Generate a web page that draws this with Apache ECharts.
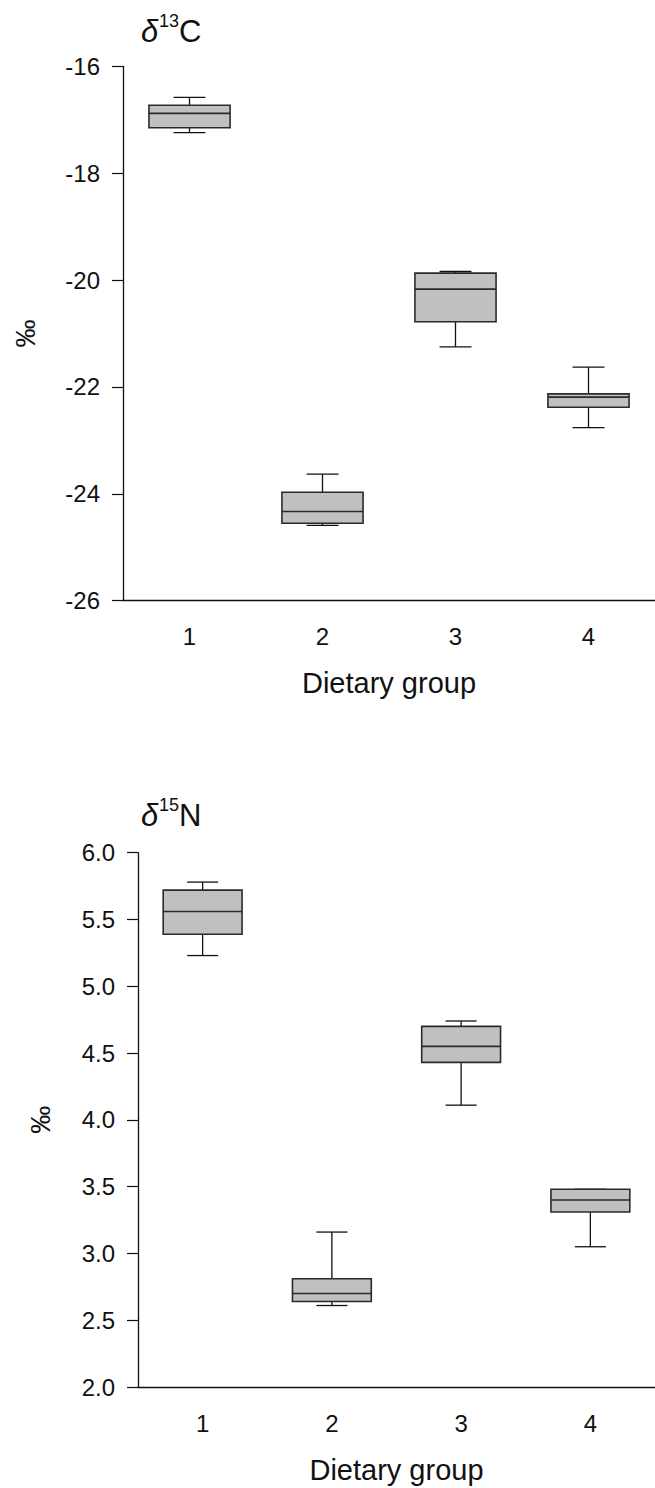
<!DOCTYPE html>
<html>
<head>
<meta charset="utf-8">
<script src="https://cdn.jsdelivr.net/npm/echarts@6/dist/echarts.min.js"></script>
<style>
  html, body { margin: 0; padding: 0; background: #fff; }
  #chart { width: 655px; height: 1488px; }
</style>
</head>
<body>
<div id="chart"></div>
<script>
// dietary groups on the x axis
const groups = ['1', '2', '3', '4'];

// delta 13C: [min, q1, median, q3, max] per group
const carbonBoxes = [
    [-17.24, -17.15, -16.88, -16.73, -16.58],
    [-24.59, -24.55, -24.33, -23.97, -23.63],
    [-21.25, -20.78, -20.17, -19.87, -19.84],
    [-22.76, -22.38, -22.19, -22.13, -21.63]
];

// delta 15N: [min, q1, median, q3, max] per group
const nitrogenBoxes = [
    [5.23, 5.39, 5.56, 5.72, 5.78],
    [2.61, 2.64, 2.70, 2.81, 3.16],
    [4.11, 4.43, 4.55, 4.70, 4.74],
    [3.05, 3.31, 3.40, 3.48, 3.48]
];

const FONT = 'Liberation Sans, Arial, sans-serif';
const INK = '#111';

const chart = echarts.init(document.getElementById('chart'), null, { renderer: 'svg' });

// box + whiskers drawn from the axis scales
function renderBox(params, api) {
    const x = api.value(0);
    const lo = api.coord([x, api.value(1)]);
    const q1 = api.coord([x, api.value(2)]);
    const md = api.coord([x, api.value(3)]);
    const q3 = api.coord([x, api.value(4)]);
    const hi = api.coord([x, api.value(5)]);
    const band = api.size([1, 0])[0];
    const bw = band * 0.61;
    const cw = band * 0.24;
    const cx = md[0];
    const line = { stroke: INK, lineWidth: 1.3 };
    return {
        type: 'group',
        children: [
            { type: 'line', shape: { x1: cx, y1: hi[1], x2: cx, y2: q3[1] }, style: line },
            { type: 'line', shape: { x1: cx, y1: lo[1], x2: cx, y2: q1[1] }, style: line },
            { type: 'line', shape: { x1: cx - cw / 2, y1: hi[1], x2: cx + cw / 2, y2: hi[1] }, style: line },
            { type: 'line', shape: { x1: cx - cw / 2, y1: lo[1], x2: cx + cw / 2, y2: lo[1] }, style: line },
            {
                type: 'rect',
                shape: { x: cx - bw / 2, y: q3[1], width: bw, height: q1[1] - q3[1] },
                style: { fill: '#c0c0c0', stroke: '#2a2a2a', lineWidth: 1.6 }
            },
            { type: 'line', shape: { x1: cx - bw / 2, y1: md[1], x2: cx + bw / 2, y2: md[1] }, style: { stroke: '#2a2a2a', lineWidth: 1.6 } }
        ]
    };
}

function toRows(boxes) {
    return boxes.map((b, i) => [i].concat(b));
}

function xAxisFor(gridIndex) {
    return {
        type: 'category',
        gridIndex: gridIndex,
        data: groups,
        boundaryGap: true,
        name: 'Dietary group',
        nameLocation: 'middle',
        nameGap: 68,
        nameTextStyle: { fontFamily: FONT, fontSize: 29, color: INK },
        axisLine: { lineStyle: { color: INK, width: 1.3 } },
        axisTick: { alignWithLabel: true, length: 8, lineStyle: { color: INK, width: 1.2 } },
        axisLabel: { fontFamily: FONT, fontSize: 24, color: INK, margin: 24 },
        splitLine: { show: false }
    };
}

function yAxisFor(gridIndex, min, max, interval, digits, gap) {
    return {
        type: 'value',
        gridIndex: gridIndex,
        min: min,
        max: max,
        interval: interval,
        name: '‰',
        nameLocation: 'middle',
        nameRotate: 90,
        nameGap: gap,
        nameTextStyle: { fontFamily: FONT, fontSize: 28, color: INK },
        axisLine: { show: true, lineStyle: { color: INK, width: 1.3 } },
        axisTick: { show: true, length: 11, lineStyle: { color: INK, width: 1.2 } },
        axisLabel: {
            fontFamily: FONT, fontSize: 24, color: INK, margin: 23,
            formatter: v => v.toFixed(digits)
        },
        splitLine: { show: false }
    };
}

function titleTexts(top, sup, letter) {
    return [
        { type: 'text', left: 141, top: top, style: { text: 'δ', fontFamily: FONT, fontStyle: 'italic', fontSize: 31, fill: INK } },
        { type: 'text', left: 159, top: top - 4, style: { text: sup, fontFamily: FONT, fontSize: 18, fill: INK } },
        { type: 'text', left: 179, top: top, style: { text: letter, fontFamily: FONT, fontSize: 31, fill: INK } }
    ];
}

const option = {
    backgroundColor: '#fff',
    animation: false,
    grid: [
        { left: 123, top: 66.3, width: 533.4, height: 534.4 },
        { left: 138, top: 852.7, width: 534.4, height: 534.3 }
    ],
    xAxis: [xAxisFor(0), xAxisFor(1)],
    yAxis: [
        yAxisFor(0, -26, -16, 2, 0, 84),
        yAxisFor(1, 2, 6, 0.5, 1, 84)
    ],
    graphic: titleTexts(16, '13', 'C').concat(titleTexts(800, '15', 'N')),
    series: [
        {
            name: 'd13C',
            type: 'custom',
            xAxisIndex: 0,
            yAxisIndex: 0,
            renderItem: renderBox,
            encode: { x: 0, y: [1, 2, 3, 4, 5] },
            data: toRows(carbonBoxes)
        },
        {
            name: 'd15N',
            type: 'custom',
            xAxisIndex: 1,
            yAxisIndex: 1,
            renderItem: renderBox,
            encode: { x: 0, y: [1, 2, 3, 4, 5] },
            data: toRows(nitrogenBoxes)
        }
    ]
};

chart.setOption(option);
</script>
</body>
</html>
